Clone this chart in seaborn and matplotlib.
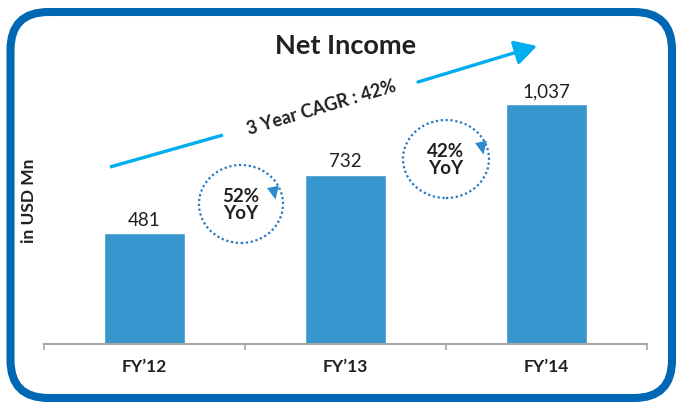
import matplotlib
matplotlib.use("Agg")
import numpy as np
import pandas as pd
import matplotlib.pyplot as plt
import seaborn as sns
from matplotlib.patches import FancyBboxPatch, Ellipse, Polygon, FancyArrowPatch
from matplotlib.lines import Line2D
from matplotlib.transforms import IdentityTransform

# ---------------- data ----------------
categories = ["FY\u201912", "FY\u201913", "FY\u201914"]
net_income = [481, 732, 1037]
yoy_labels = ["52%\nYoY", "42%\nYoY"]
cagr_label = "3 Year CAGR : 42%"
title = "Net Income"
y_label = "in USD Mn"

# ---------------- style ----------------
W, H = 676, 403
BAR = "#3796CE"
BORDER = "#0067B4"
CYAN = "#00AEEF"
DOT = "#2579C2"
TXT = "#231F20"
AXIS = "#A6A6A6"

sns.set_theme(style="white")
plt.rcParams["font.family"] = ["Lato", "DejaVu Sans"]

fig = plt.figure(figsize=(W / 100, H / 100), dpi=100)
fig.patch.set_facecolor("white")
ax = fig.add_axes([44 / W, 1 - 344 / H, (647 - 44) / W, (344 - 30) / H])

df = pd.DataFrame({"year": categories, "value": net_income})
sns.barplot(data=df, x="year", y="value", color=BAR, saturation=1,
            width=0.4, ax=ax)
ax.set_xlim(-0.5, 2.5)
ax.set_ylim(0, 1357)

ax.bar_label(ax.containers[0], labels=[f"{v:,}" for v in net_income],
             padding=3, fontsize=13.5, color=TXT)

for s in ["top", "right", "left"]:
    ax.spines[s].set_visible(False)
ax.spines["bottom"].set_color(AXIS)
ax.spines["bottom"].set_linewidth(1.5)
ax.set_yticks([])
ax.set_xticks(range(len(categories)))
ax.set_xticklabels(categories, fontsize=12.5, fontweight="bold", color=TXT)
ax.set_xticks([-0.5, 0.5, 1.5, 2.5], minor=True)
ax.tick_params(axis="x", which="major", length=0, pad=11)
ax.tick_params(axis="x", which="minor", length=4, width=1.2, color=AXIS,
               direction="out", bottom=True)
ax.set_xlabel("")
ax.set_ylabel(y_label, fontsize=12.5, fontweight="bold", color=TXT)
ax.yaxis.set_label_coords(-0.012, 0.455)

ID = IdentityTransform()

# border
fig.add_artist(FancyBboxPatch((10.5, 5), 661.5, 386,
                              boxstyle="round,pad=0,rounding_size=38",
                              lw=5.8, ec=BORDER, fc="none", transform=ID))

# title
fig.text(346 / W, 1 - 54 / H, title, ha="center", va="baseline",
         fontsize=19.5, fontweight="bold", color=TXT)

# CAGR line + arrow
fig.add_artist(Line2D([110, 223], [H - 167, H - 135], lw=2.4, color=CYAN,
                      solid_capstyle="butt", transform=ID))
fig.add_artist(FancyArrowPatch((418, H - 82), (537, H - 46),
                               arrowstyle="-|>,head_length=0.9,head_width=0.5",
                               mutation_scale=15, lw=2.4, color=CYAN,
                               shrinkA=0, shrinkB=0, transform=ID))
fig.text(322 / W, 1 - 108 / H, cagr_label, ha="center", va="center",
         rotation=16.5, rotation_mode="anchor", fontsize=13,
         fontweight="bold", color=TXT)

# YoY circles
def yoy(cx, cy, rx, ry, label, hx, hy):
    fig.add_artist(Ellipse((cx, H - cy), 2 * rx, 2 * ry, fill=False,
                           ec=DOT, lw=1.6, linestyle=(0, (1, 1.2)),
                           transform=ID))
    px, py = cx + hx, H - cy + hy
    d = np.array([0.2, -1.0]); d /= np.linalg.norm(d)
    n = np.array([-d[1], d[0]])
    L, Wd = 13, 12
    tip = np.array([px, py]) + d * L * 0.6
    b1 = np.array([px, py]) - d * L * 0.4 + n * Wd / 2
    b2 = np.array([px, py]) - d * L * 0.4 - n * Wd / 2
    fig.add_artist(Polygon([tip, b1, b2], closed=True, fc="#2E8ACB",
                           ec="none", transform=ID))
    fig.text(cx / W, 1 - (cy + 1) / H, label, ha="center", va="center",
             fontsize=13.5, fontweight="bold", color=TXT, linespacing=0.95)

yoy(241, 204, 42, 39, yoy_labels[0], 33, 12)
yoy(446, 159, 43, 39, yoy_labels[1], 36, 12)

fig.savefig("out.png", dpi=100, facecolor="white")
